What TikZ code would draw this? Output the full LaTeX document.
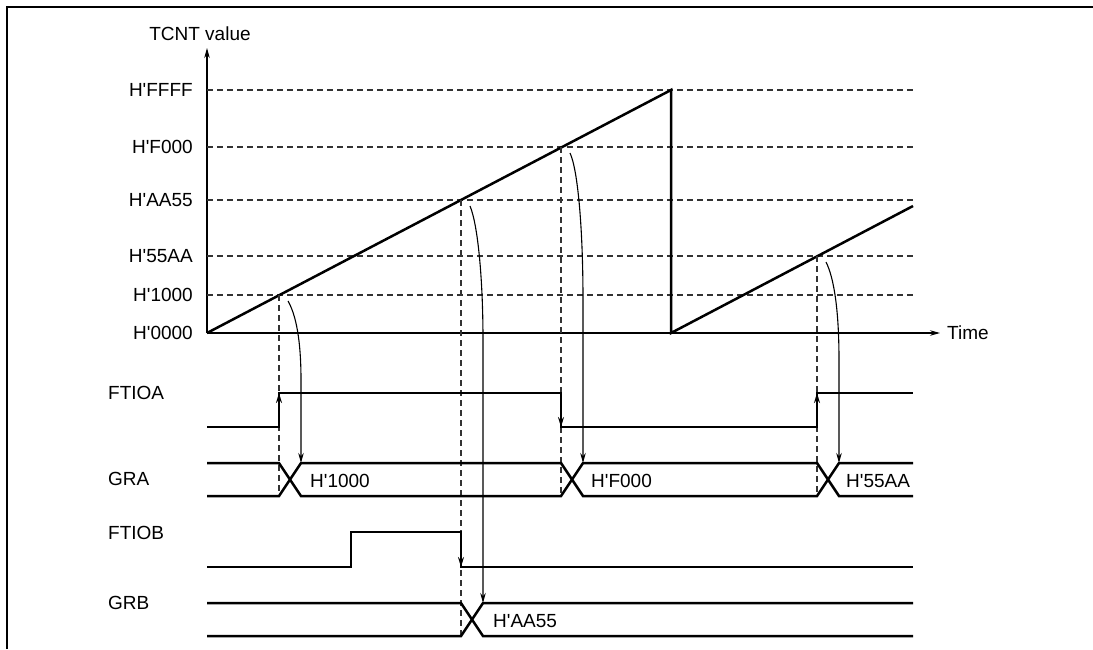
\documentclass[tikz,border=0pt]{standalone}
\usepackage{fontspec}
\setmainfont{Liberation Sans}
\usetikzlibrary{arrows.meta}
\newcommand\ap{\textquotesingle}
\begin{document}
\begin{tikzpicture}[x=1pt,y=-1pt,
  lbl/.style={font=\fontsize{19}{22}\selectfont, inner sep=0pt},
  wave/.style={line width=2.5pt, line join=miter},
  guide/.style={line width=1.1pt, dash pattern=on 6pt off 4pt, draw=black!80},
  axisline/.style={line width=1.1pt, -{Stealth[length=10pt,width=5.5pt]}},
  curvearrow/.style={line width=1.1pt, -{Stealth[length=10pt,width=5.5pt]}},
  edgearrow/.style={line width=2.5pt, -{Stealth[length=10pt,width=6pt]}},
]
\useasboundingbox (0,0) rectangle (1093,649);
% frame
\draw[line width=2.5pt] (7,649) -- (7,7) -- (1093,7);

% axes
\coordinate (O) at (207,333);
\coordinate (ytip) at (207,48);
\coordinate (xtip) at (940,333);
\draw[axisline] (O) -- (ytip);
\draw[axisline] (O) -- (xtip);
\node[lbl] (ylab) at (200,34) {TCNT value};
\node[lbl, anchor=west] (xlab) at (947,333) {Time};

% level labels and guides
\foreach \n/\y in {FFFF/90, F000/147, AA55/200, 55AA/256, 1000/295} {
  \node[lbl, anchor=east] (l\n) at (193,\y) {H\ap\n};
  \draw[guide] (207,\y) -- (913,\y);
}
\node[lbl, anchor=east] (l0000) at (193,333) {H\ap0000};

% counter ramp
\coordinate (top) at (671,90);
\coordinate (bot) at (671,333);
\coordinate (rend) at (913,206);
\draw[wave] (O) -- (top) -- (bot) -- (rend);

% compare-match points
\coordinate (p1) at (279,295);
\coordinate (p2) at (461,200);
\coordinate (p3) at (561,147);
\coordinate (p4) at (817,256);
\draw[guide] (p1) -- (279,496);
\draw[guide] (p2) -- (461,636);
\draw[guide] (p3) -- (561,496);
\draw[guide] (p4) -- (817,496);

% signal labels
\node[lbl, anchor=west] (sFA) at (108,393) {FTIOA};
\node[lbl, anchor=west] (sGA) at (108,479) {GRA};
\node[lbl, anchor=west] (sFB) at (108,533) {FTIOB};
\node[lbl, anchor=west] (sGB) at (108,603) {GRB};

% FTIOA
\draw[wave] (207,427) -- (279,427) -- (279,393) -- (561,393) -- (561,427) -- (817,427) -- (817,393) -- (913,393);
\coordinate (a1l) at (279,427); \coordinate (a1h) at (279,393);
\coordinate (a2h) at (561,393); \coordinate (a2l) at (561,427);
\coordinate (a3l) at (817,427); \coordinate (a3h) at (817,393);
\draw[edgearrow] (a1l) -- (a1h);
\draw[edgearrow] (a2h) -- (a2l);
\draw[edgearrow] (a3l) -- (a3h);

% GRA
\draw[wave] (207,463) -- (279,463) -- (301,496) -- (561,496) -- (583,463) -- (817,463) -- (839,496) -- (913,496);
\draw[wave] (207,496) -- (279,496) -- (301,463) -- (561,463) -- (583,496) -- (817,496) -- (839,463) -- (913,463);
\node[lbl, anchor=west] (vA1) at (310,481) {H\ap1000};
\node[lbl, anchor=west] (vA2) at (591,481) {H\ap F000};
\node[lbl, anchor=west] (vA3) at (846,481) {H\ap55AA};

% FTIOB
\draw[wave] (207,567) -- (351,567) -- (351,532) -- (461,532) -- (461,567) -- (913,567);
\coordinate (b1h) at (461,532); \coordinate (b1l) at (461,567);
\draw[edgearrow] (b1h) -- (b1l);

% GRB
\draw[wave] (207,603) -- (461,603) -- (483,636) -- (913,636);
\draw[wave] (207,636) -- (461,636) -- (483,603) -- (913,603);
\node[lbl, anchor=west] (vB1) at (493,621) {H\ap AA55};

% transfer arrows
\coordinate (g1) at (301,463);
\coordinate (g2) at (483,603);
\coordinate (g3) at (583,463);
\coordinate (g4) at (839,463);
\draw[curvearrow] (288,301) .. controls (296,315) and (301,340) .. (301,380) -- (g1);
\draw[curvearrow] (470,206) .. controls (478,225) and (483,280) .. (483,340) -- (g2);
\draw[curvearrow] (570,153) .. controls (578,170) and (583,230) .. (583,300) -- (g3);
\draw[curvearrow] (826,262) .. controls (834,278) and (839,310) .. (839,360) -- (g4);
\end{tikzpicture}
\end{document}
